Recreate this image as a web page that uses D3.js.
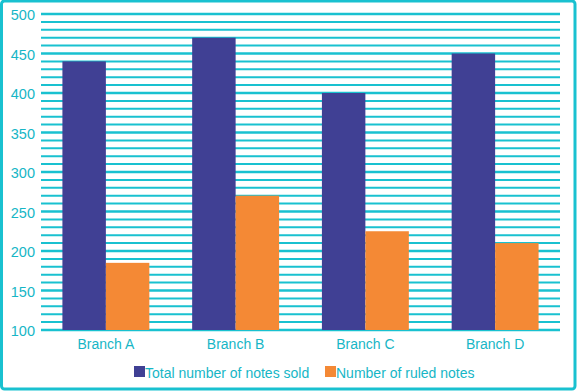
<!DOCTYPE html>
<html><head><meta charset="utf-8">
<script src="https://cdn.jsdelivr.net/npm/d3@7"></script>
<style>html,body{margin:0;padding:0;background:#fff;}svg{display:block;}</style>
</head><body>
<svg id="c" width="577" height="391"></svg>
<script>
const categories = ["Branch A", "Branch B", "Branch C", "Branch D"];
const totalSold = [440, 470, 400, 450];
const ruledNotes = [185, 270, 225, 210];
const seriesNames = ["Total number of notes sold", "Number of ruled notes"];
const yTicks = [100, 150, 200, 250, 300, 350, 400, 450, 500];

const colors = ["#404094", "#f48935"];
const cyan = "#19c1d0";
const textCol = "#16b6c6";
const svg = d3.select("#c");
const m = {l: 41, r: 17, t: 14, b: 61};
const W = 577, H = 391;
const x0 = d3.scaleBand().domain(categories).range([m.l, W - m.r]).paddingInner(0).paddingOuter(0);
const groupW = x0.bandwidth() * 0.67;
const x1 = d3.scaleBand().domain([0, 1]).range([0, groupW]).padding(0);
const y = d3.scaleLinear().domain([100, 500]).range([H - m.b, m.t]);

// frame
svg.append("rect").attr("x", 1.5).attr("y", 1).attr("width", W - 3.5).attr("height", H - 3)
  .attr("rx", 3).attr("fill", "none").attr("stroke", cyan).attr("stroke-width", 3);

// gridlines every 10
const grid = d3.range(100, 501, 10);
svg.append("g").selectAll("line").data(grid).join("line")
  .attr("x1", m.l).attr("x2", W - m.r)
  .attr("y1", d => y(d)).attr("y2", d => y(d))
  .attr("stroke", cyan).attr("stroke-width", d => d % 50 === 0 ? 2.5 : 2);

// y axis labels
const yAxis = d3.axisLeft(y).tickValues(yTicks).tickSize(0).tickPadding(6);
const ga = svg.append("g").attr("transform", `translate(${m.l},0)`).call(yAxis);
ga.select(".domain").remove();
ga.selectAll("text").attr("fill", textCol).style("font-family", "Liberation Sans, Arial, sans-serif")
  .style("font-size", "14.5px").attr("dy", "0.4em");

// bars
const g = svg.append("g");
categories.forEach((c, i) => {
  const gx = x0(c) + (x0.bandwidth() - groupW) / 2;
  [totalSold[i], ruledNotes[i]].forEach((v, j) => {
    g.append("rect").attr("x", gx + x1(j)).attr("width", x1.bandwidth())
      .attr("y", y(v)).attr("height", y(100) - y(v)).attr("fill", colors[j]);
  });
});

// x labels
const xAxis = d3.axisBottom(x0).tickSize(0).tickPadding(9);
const gx = svg.append("g").attr("transform", `translate(0,${y(100)})`).call(xAxis);
gx.select(".domain").remove();
gx.selectAll("text").attr("fill", textCol).style("font-family", "Liberation Sans, Arial, sans-serif")
  .style("font-size", "14px");

// legend
const legX = [134, 325];
seriesNames.forEach((n, i) => {
  svg.append("rect").attr("x", legX[i]).attr("y", 366).attr("width", 11).attr("height", 11).attr("fill", colors[i]);
  svg.append("text").attr("x", legX[i] + 11).attr("y", 378).text(n)
    .attr("fill", textCol).style("font-family", "Liberation Sans, Arial, sans-serif").style("font-size", "14px");
});
</script>
</body></html>
